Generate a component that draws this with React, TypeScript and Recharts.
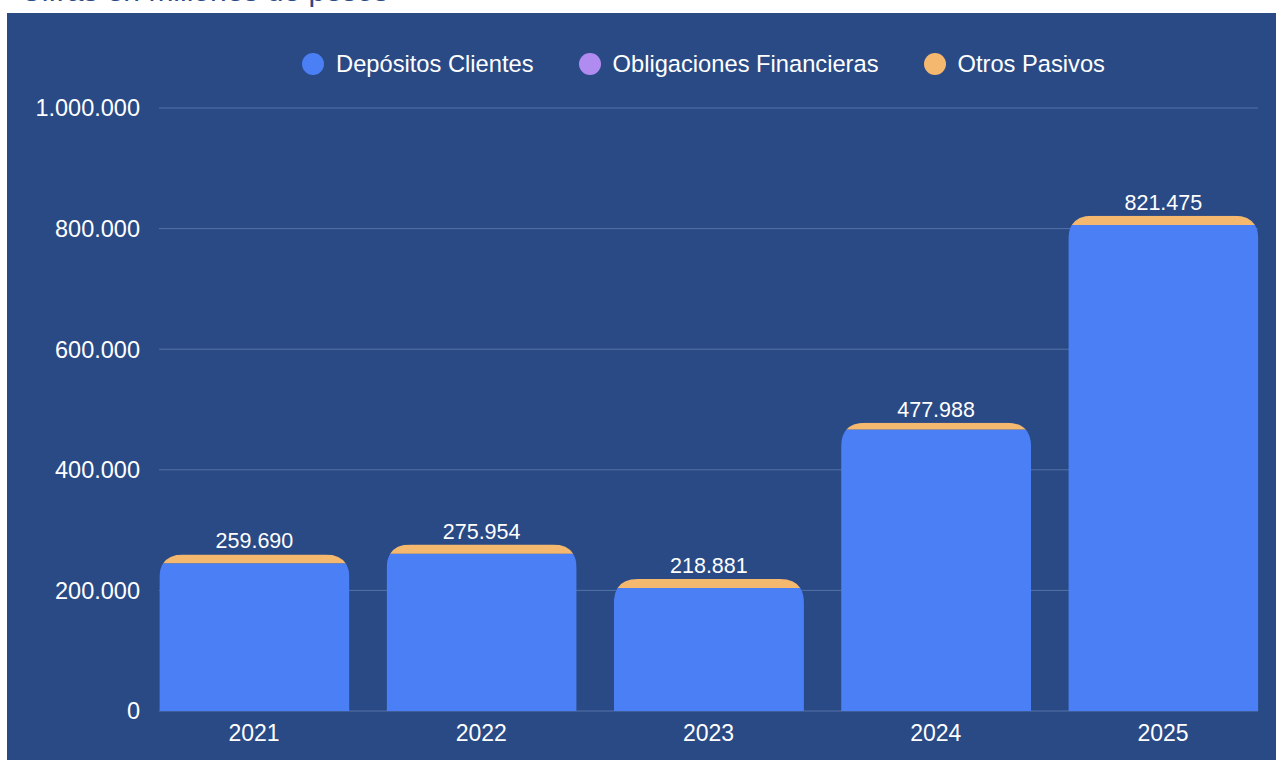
import { BarChart, Bar, XAxis, YAxis, CartesianGrid, Legend, LabelList } from 'recharts'

const years = ['2021', '2022', '2023', '2024', '2025']
const depositos = [245190, 260954, 203881, 466988, 805975]
const obligaciones = [0, 0, 0, 0, 0]
const otros = [14500, 15000, 15000, 11000, 15500]
const yTicks = [0, 200000, 400000, 600000, 800000, 1000000]

const seriesKeys = ['dep', 'obl', 'otros']
const seriesNames = ['Depósitos Clientes', 'Obligaciones Financieras', 'Otros Pasivos']
const seriesColors = ['#4a7ff5', '#b18cf0', '#f4b86e']

const chartData = years.map((year, i) => ({
  year,
  dep: depositos[i],
  obl: obligaciones[i],
  otros: otros[i],
  total: depositos[i] + obligaciones[i] + otros[i],
}))

const FONT = '"Liberation Sans", Arial, Helvetica, sans-serif'
const RADIUS = 24

function fmt(v: number) {
  return String(Math.round(v)).replace(/\B(?=(\d{3})+(?!\d))/g, '.')
}

// the whole stack is one rounded-top block; each segment draws its slice of it
function makeShape(key: string) {
  const idx = seriesKeys.indexOf(key)
  return (props: any) => {
    const { x, y, width, height, payload, index } = props
    if (!height || height <= 0) return <g />
    const ppu = height / payload[key]
    const above = seriesKeys.slice(idx + 1).reduce((s, k) => s + payload[k], 0)
    const below = seriesKeys.slice(0, idx).reduce((s, k) => s + payload[k], 0)
    const top = y - above * ppu
    const bottom = y + height + below * ppu
    const r = Math.min(RADIUS, width / 2, bottom - top)
    const d = `M${x},${bottom} L${x},${top + r} Q${x},${top} ${x + r},${top} L${x + width - r},${top} Q${x + width},${top} ${x + width},${top + r} L${x + width},${bottom} Z`
    const id = `clip-${key}-${index}`
    return (
      <g>
        <defs>
          <clipPath id={id}>
            <rect x={x} y={y} width={width} height={height} />
          </clipPath>
        </defs>
        <path d={d} fill={props.fill} clipPath={`url(#${id})`} />
      </g>
    )
  }
}

function LegendContent(props: any) {
  const items = props.payload || []
  return (
    <div
      style={{
        display: 'flex',
        justifyContent: 'center',
        alignItems: 'flex-start',
        height: 65,
        paddingTop: 10,
        boxSizing: 'border-box',
        fontFamily: FONT,
      }}
    >
      {items.map((it: any, i: number) => (
        <div
          key={it.value}
          style={{ display: 'flex', alignItems: 'center', marginRight: i < items.length - 1 ? 45 : 0, height: 22 }}
        >
          <span
            style={{ width: 22, height: 22, borderRadius: 11, background: it.color, display: 'inline-block', marginRight: 12 }}
          />
          <span style={{ color: '#ffffff', fontSize: 23.7, lineHeight: '22px' }}>{it.value}</span>
        </div>
      ))}
    </div>
  )
}

export default function App() {
  return (
    <div style={{ position: 'fixed', inset: 0, background: '#ffffff', overflow: 'hidden' }}>
      <div
        style={{
          position: 'absolute',
          left: 20,
          top: -23.8,
          fontFamily: FONT,
          fontSize: 30,
          lineHeight: '30px',
          color: '#2b4a86',
          whiteSpace: 'nowrap',
        }}
      >
        Cifras en millones de pesos
      </div>
      <div style={{ position: 'absolute', left: 7, top: 13, width: 1269, height: 747, background: '#2a4a86' }}>
        <BarChart
          width={1269}
          height={747}
          data={chartData}
          margin={{ top: 30, right: 18, left: 0, bottom: 0 }}
          style={{ fontFamily: FONT }}
        >
          <CartesianGrid vertical={false} stroke="#5571a6" strokeWidth={1} />
          <XAxis
            dataKey="year"
            axisLine={false}
            tickLine={false}
            tickSize={0}
            tickMargin={14}
            height={49}
            padding={{ left: -18.6, right: -18.6 }}
            tick={{ fill: '#ffffff', fontSize: 23 }}
          />
          <YAxis
            width={152}
            domain={[0, 1000000]}
            ticks={yTicks}
            axisLine={false}
            tickLine={false}
            tickSize={0}
            tickMargin={19}
            tickFormatter={fmt}
            tick={{ fill: '#ffffff', fontSize: 23.5 }}
          />
          <Legend
            verticalAlign="top"
            height={65}
            content={<LegendContent />}
            wrapperStyle={{ top: 30, left: 147, width: 1099 }}
          />
          {seriesKeys.map((key, i) => (
            <Bar
              key={key}
              dataKey={key}
              name={seriesNames[i]}
              stackId="a"
              fill={seriesColors[i]}
              barSize={190}
              shape={makeShape(key)}
              isAnimationActive={false}
            >
              {key === 'otros' && (
                <LabelList dataKey="total" position="top" offset={6} fill="#ffffff" fontSize={21.5} formatter={fmt} />
              )}
            </Bar>
          ))}
        </BarChart>
      </div>
    </div>
  )
}
